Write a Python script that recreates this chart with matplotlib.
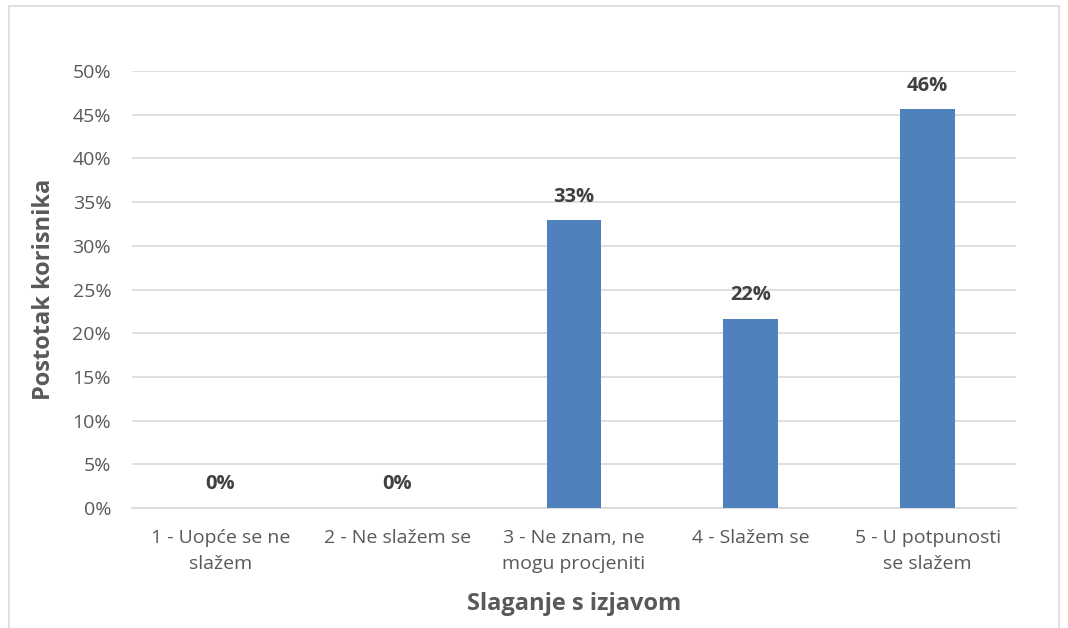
import matplotlib
matplotlib.use("Agg")
import matplotlib.pyplot as plt
from matplotlib.patches import Rectangle
from matplotlib.ticker import FuncFormatter

plt.rcParams["font.family"] = ["Open Sans", "DejaVu Sans"]

categories = ["1 - Uopće se ne\nslažem", "2 - Ne slažem se", "3 - Ne znam, ne\nmogu procjeniti",
              "4 - Slažem se", "5 - U potpunosti\nse slažem"]
values = [0.0, 0.0, 32.9, 21.6, 45.6]
labels = ["0%", "0%", "33%", "22%", "46%"]
yticks = [0, 5, 10, 15, 20, 25, 30, 35, 40, 45, 50]

fig = plt.figure(figsize=(10.68, 6.28), dpi=100)
ax = fig.add_axes([0.1236, 0.191, 0.8277, 0.696])

# outer chart border
fig.patches.append(Rectangle((0.008, -0.01), 0.984, 1.0, transform=fig.transFigure,
                             fill=False, edgecolor="#d9d9d9", linewidth=1.2))

x = range(len(categories))
ax.bar(x, values, width=0.31, color="#4f81bd", zorder=3)
for i, (v, lab) in enumerate(zip(values, labels)):
    ax.annotate(lab, (i, v), xytext=(0, 10), textcoords="offset points",
                ha="center", va="bottom", fontsize=14.5, fontweight="bold", color="#404040")

ax.set_xlim(-0.5, len(categories) - 0.5)
ax.set_ylim(0, 50)
ax.set_yticks(yticks)
ax.yaxis.set_major_formatter(FuncFormatter(lambda v, p: f"{v:.0f}%"))
ax.set_xticks(list(x))
ax.set_xticklabels(categories, fontsize=14, color="#595959", linespacing=1.55)
ax.tick_params(axis="y", labelsize=14, labelcolor="#595959", length=0, pad=15)
ax.tick_params(axis="x", length=0, pad=15)
ax.grid(axis="y", color="#d9d9d9", linewidth=1.2, zorder=0)
for s in ["top", "right", "left"]:
    ax.spines[s].set_visible(False)
ax.spines["bottom"].set_color("#d9d9d9")
ax.spines["bottom"].set_linewidth(1.2)

ax.set_xlabel("Slaganje s izjavom", fontsize=17, fontweight="bold", color="#595959", labelpad=14)
ax.set_ylabel("Postotak korisnika", fontsize=17, fontweight="bold", color="#595959", labelpad=12)

fig.savefig("out.png", dpi=100)
